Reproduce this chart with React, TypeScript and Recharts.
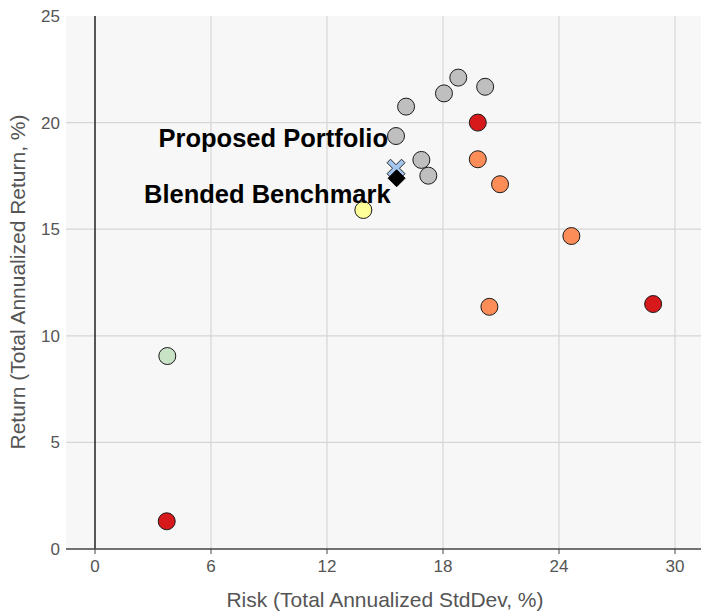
import React from 'react';
import { ScatterChart, Scatter, XAxis, YAxis, CartesianGrid, ReferenceLine, Label } from 'recharts';

// risk = total annualized std dev (%), ret = total annualized return (%)
const grayRisk = [15.57, 16.09, 18.05, 18.79, 20.18, 16.88, 17.24];
const grayReturn = [19.37, 20.75, 21.37, 22.11, 21.68, 18.25, 17.51];

const redRisk = [19.8, 28.87, 3.71];
const redReturn = [20.0, 11.49, 1.3];

const orangeRisk = [19.8, 20.95, 24.64, 20.4];
const orangeReturn = [18.28, 17.11, 14.68, 11.36];

const yellowRisk = [13.88];
const yellowReturn = [15.9];

const greenRisk = [3.74];
const greenReturn = [9.05];

const proposedRisk = [15.57];
const proposedReturn = [17.86];
const proposedLabel = 'Proposed Portfolio';

const benchmarkRisk = [15.6];
const benchmarkReturn = [17.39];
const benchmarkLabel = 'Blended Benchmark';

const xTicks = [0, 6, 12, 18, 24, 30];
const yTicks = [0, 5, 10, 15, 20, 25];

const FONT = 'Arial, "Liberation Sans", sans-serif';

const toPoints = (xs: number[], ys: number[]) => xs.map((risk, i) => ({ risk, ret: ys[i] }));

const dot = (fill: string) => (props: any) => (
    <circle cx={props.cx} cy={props.cy} r={8.5} fill={fill} stroke="#1a1a1a" strokeWidth={1} />
);

const crossShape = (props: any) => {
    const { cx, cy } = props;
    const a = 3.5, b = 9;
    const d = `M${cx - b + a},${cy - b} L${cx},${cy - a} L${cx + b - a},${cy - b} L${cx + b},${cy - b + a} L${cx + a},${cy} L${cx + b},${cy + b - a} L${cx + b - a},${cy + b} L${cx},${cy + a} L${cx - b + a},${cy + b} L${cx - b},${cy + b - a} L${cx - a},${cy} L${cx - b},${cy - b + a} Z`;
    return (
        <g>
            <path d={d} fill="#a3c6ee" stroke="#2a2a2a" strokeWidth={1} />
            <text x={cx - 8} y={cy - 21} textAnchor="end" fontFamily={FONT} fontSize={25.5} fontWeight="bold" fill="#000">
                {proposedLabel}
            </text>
        </g>
    );
};

const diamondShape = (props: any) => {
    const { cx, cy } = props;
    const s = 8.5;
    return (
        <g>
            <path d={`M${cx},${cy - s} L${cx + s},${cy} L${cx},${cy + s} L${cx - s},${cy} Z`} fill="#000" stroke="#000" />
            <text x={cx - 6} y={cy + 25} textAnchor="end" fontFamily={FONT} fontSize={25.5} fontWeight="bold" fill="#000">
                {benchmarkLabel}
            </text>
        </g>
    );
};

const tickStyle = { fill: '#555', fontSize: 17, fontFamily: FONT };

export default function App() {
    return (
        <div style={{ position: 'absolute', left: 0, top: 0, width: 701, height: 612, overflow: 'hidden', background: '#fff' }}>
            <ScatterChart width={710} height={612} margin={{ top: 16, right: 6, bottom: 0, left: 0 }}>
                <CartesianGrid
                    fill="#f7f7f7"
                    stroke="#d6d6d6"
                    strokeWidth={1.2}
                    verticalValues={[6, 12, 18, 24, 30]}
                    horizontalValues={[5, 10, 15, 20]}
                />
                <XAxis
                    type="number"
                    dataKey="risk"
                    domain={[-1.5, 31.5]}
                    ticks={xTicks}
                    allowDataOverflow
                    height={63}
                    tick={tickStyle}
                    tickSize={5}
                    tickMargin={6}
                    axisLine={{ stroke: '#444', strokeWidth: 1.5 }}
                    tickLine={{ stroke: '#444' }}
                >
                    <Label
                        value="Risk (Total Annualized StdDev, %)"
                        position="insideBottom"
                        offset={5}
                        fill="#555"
                        fontSize={21}
                        fontFamily={FONT}
                    />
                </XAxis>
                <YAxis
                    type="number"
                    dataKey="ret"
                    domain={[0, 25]}
                    ticks={yTicks}
                    allowDataOverflow
                    width={66}
                    tick={tickStyle}
                    tickSize={0}
                    tickMargin={6}
                    axisLine={false}
                    tickLine={false}
                >
                    <Label
                        content={() => (
                            <text
                                x={25}
                                y={282}
                                transform="rotate(-90 25 282)"
                                textAnchor="middle"
                                fill="#555"
                                fontSize={21}
                                fontFamily={FONT}
                            >
                                Return (Total Annualized Return, %)
                            </text>
                        )}
                    />
                </YAxis>
                <ReferenceLine x={0} stroke="#222" strokeWidth={1.5} />
                <Scatter data={toPoints(grayRisk, grayReturn)} shape={dot('#bfbfbf')} isAnimationActive={false} />
                <Scatter data={toPoints(orangeRisk, orangeReturn)} shape={dot('#fc8d59')} isAnimationActive={false} />
                <Scatter data={toPoints(redRisk, redReturn)} shape={dot('#d7191c')} isAnimationActive={false} />
                <Scatter data={toPoints(yellowRisk, yellowReturn)} shape={dot('#ffff99')} isAnimationActive={false} />
                <Scatter data={toPoints(greenRisk, greenReturn)} shape={dot('#c7e2c4')} isAnimationActive={false} />
                <Scatter data={toPoints(proposedRisk, proposedReturn)} shape={crossShape} isAnimationActive={false} />
                <Scatter data={toPoints(benchmarkRisk, benchmarkReturn)} shape={diamondShape} isAnimationActive={false} />
            </ScatterChart>
        </div>
    );
}
